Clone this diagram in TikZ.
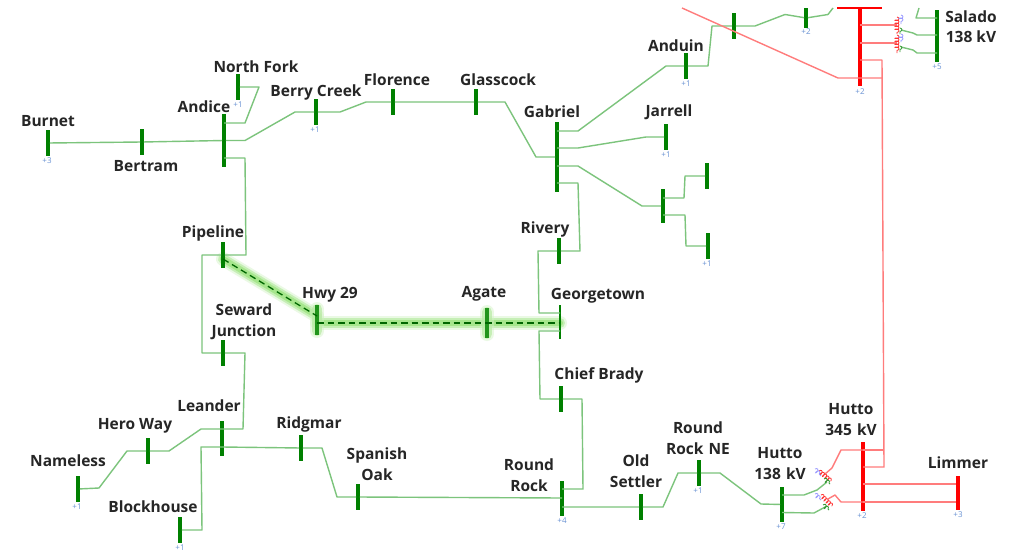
\documentclass[tikz,border=0pt]{standalone}
\usepackage{fontspec}
\setmainfont{Open Sans}
\usetikzlibrary{decorations.pathmorphing}
\definecolor{busgreen}{HTML}{008000}
\definecolor{linegreen}{HTML}{7CC47C}
\definecolor{busred}{HTML}{FF0000}
\definecolor{linered}{HTML}{FF7C7C}
\definecolor{glowgreen}{HTML}{A6E68C}
\definecolor{ticklabel}{HTML}{6A93D4}
\tikzset{
  bus/.style={fill=busgreen, rectangle, inner sep=0pt, minimum width=3.5pt},
  redbus/.style={bus, fill=busred, minimum width=4pt},
  acline/.style={draw=linegreen, line width=1.4pt, line join=round},
  redline/.style={draw=linered, line width=1.4pt, line join=round},
  lbl/.style={font=\bfseries\fontsize{15.5}{19}\selectfont, text=black!85, align=center, inner sep=0pt, yshift=-1pt},
  tick/.style={font=\fontsize{8}{9}\selectfont, text=ticklabel, inner sep=0pt},
  glow/.style={draw=glowgreen!50, line width=14pt, opacity=.45, line cap=round},
  glowmid/.style={draw=glowgreen!80, line width=10pt, opacity=.7, line cap=round},
  glowcore/.style={draw=glowgreen, line width=6pt, line cap=round},
  dashline/.style={draw=busgreen!80!black, line width=1.3pt, dash pattern=on 6.5pt off 4pt},
  coilred/.style={draw=red!80, line width=.8pt, decorate, decoration={coil, aspect=.5, amplitude=2pt, segment length=3pt}},
  coilgreen/.style={coilred, draw=green!50!black!80},
  coilblue/.style={coilred, draw=blue!40!white},
}
\begin{document}
\begin{tikzpicture}[x=1pt, y=-1pt]
\useasboundingbox (0,0) rectangle (1020,554);
\fill[white] (0,0) rectangle (1020,554);
% glow under the highlighted path
\coordinate (hwyin) at (317,316);
\coordinate (pipeout) at (223,259);
\coordinate (hwyout) at (317,323);
\coordinate (georgein) at (560,323);
\foreach \sty in {glow,glowmid,glowcore}{
  \draw[\sty] (pipeout) -- (hwyin);
  \draw[\sty] (hwyout) -- (georgein);
}
\foreach \sty in {glow,glowmid}{
  \draw[\sty] (317,309) -- (317,331);
  \draw[\sty] (487,312) -- (487,334);
}
% buses
\node[bus, minimum height=26pt] (burnet) at (48,143) {};
\node[bus, minimum height=26pt] (bertram) at (142,142) {};
\node[bus, minimum height=53pt] (andice) at (224,140.5) {};
\node[bus, minimum height=26pt] (northfork) at (238,87) {};
\node[bus, minimum height=26pt] (berrycreek) at (316,112) {};
\node[bus, minimum height=26pt] (florence) at (393,102) {};
\node[bus, minimum height=26pt] (glasscock) at (476,102) {};
\node[bus, minimum height=70pt] (gabriel) at (557,157) {};
\node[bus, minimum height=26pt] (jarrell) at (666,137) {};
\node[bus, minimum height=34pt] (tap) at (663,206) {};
\node[bus, minimum height=26pt] (tapnorth) at (707,176) {};
\node[bus, minimum height=26pt] (tapsouth) at (708,246) {};
\node[bus, minimum height=26pt] (anduin) at (686,66) {};
\node[bus, minimum height=26pt] (busa) at (734,26) {};
\node[bus, minimum height=20pt] (busb) at (806,18) {};
\node[bus, minimum height=52pt] (salado) at (937,36) {};
\node[redbus, minimum height=78pt] (saladohv) at (860,47) {};
\node[bus, minimum height=26pt] (pipeline) at (223,255) {};
\node[bus, minimum height=30pt, fill=busgreen!80!glowgreen] (hwy) at (317,320) {};
\node[bus, minimum height=30pt, fill=busgreen!80!glowgreen] (agate) at (487,323) {};
\node[bus, minimum width=2.2pt, minimum height=34pt] (georgetown) at (560,322) {};
\node[bus, minimum height=26pt] (rivery) at (559,251) {};
\node[bus, minimum height=26pt] (seward) at (223,353) {};
\node[bus, minimum height=35pt] (leander) at (222,438.5) {};
\node[bus, minimum height=26pt] (heroway) at (148,451) {};
\node[bus, minimum height=26pt] (nameless) at (78,489) {};
\node[bus, minimum height=26pt] (blockhouse) at (180,530) {};
\node[bus, minimum height=26pt] (ridgmar) at (301,448) {};
\node[bus, minimum height=26pt] (spanish) at (358,497) {};
\node[bus, minimum height=26pt] (chiefbrady) at (561,399) {};
\node[bus, minimum height=35pt] (roundrock) at (562,498.5) {};
\node[bus, minimum height=26pt] (oldsettler) at (641,507) {};
\node[bus, minimum height=26pt] (rocknne) at (699,473) {};
\node[bus, minimum height=35pt] (hutto) at (782,504.5) {};
\node[redbus, minimum height=69pt] (huttohv) at (863,476.5) {};
\node[redbus, minimum height=34pt] (limmer) at (958,493) {};
% north side
\draw[acline] (burnet) -- (bertram) -- (andice) -- (245,140.5) -- (295,112) -- (berrycreek) -- (340,112) -- (366,102) -- (florence) -- (glasscock) -- (505,102) -- (536,157) -- (gabriel);
\draw[acline] ([yshift=17.5pt]andice.center) -- (245,123) -- (259,87) -- (northfork);
\draw[acline] ([yshift=-17.5pt]andice.center) -- (245,158) -- (246,255) -- (pipeline);
\draw[acline] ([yshift=26pt]gabriel.center) -- (578,131) -- (666,66) -- (anduin) -- (708,66) -- (712,26) -- (busa) -- (755,26) -- (785,14.5) -- (busb) -- (828,14.5) -- (833,8);
\draw[acline] ([yshift=9pt]gabriel.center) -- (578,148) -- (646,137) -- (jarrell);
\draw[acline] ([yshift=-9pt]gabriel.center) -- (578,166) -- (642,206) -- (tap);
\draw[acline] ([yshift=8pt]tap.center) -- (684,198) -- (685,176) -- (tapnorth);
\draw[acline] ([yshift=-9pt]tap.center) -- (685,215) -- (686,246) -- (tapsouth);
\draw[acline] ([yshift=-26pt]gabriel.center) -- (578,183) -- (580,251) -- (rivery) -- (538,251) -- (539,313) -- ([yshift=9pt]georgetown.center);
\draw[acline] ([yshift=18pt]salado.center) -- (916,18) -- (919,8);
% west side
\draw[acline] (pipeline) -- (202,255) -- (202,353) -- (seward) -- (245,353) -- (243,429) -- ([yshift=9.5pt]leander.center) -- (201,429) -- (169,451) -- (heroway) -- (127,451) -- (99,488) -- (nameless);
\draw[acline] ([yshift=-8.5pt]leander.center) -- (201,447) -- (202,530) -- (blockhouse);
\draw[acline] ([yshift=-8.5pt]leander.center) -- (ridgmar) -- (322,448) -- (337,497) -- (spanish) -- ([yshift=.5pt]roundrock.center);
% east side
\draw[acline] ([yshift=-9pt]georgetown.center) -- (539,331) -- (540,399) -- (chiefbrady) -- (582,399) -- (583,489) -- ([yshift=9.5pt]roundrock.center);
\draw[acline] ([yshift=-8.5pt]roundrock.center) -- (oldsettler) -- (663,507) -- (678,473) -- (rocknne) -- (720,473) -- (761,504) -- (hutto);
% highlighted path
\draw[dashline] (pipeout) -- (hwyin);
\draw[dashline] (hwyout) -- (georgein);
% red network
\draw[redline] (682,8) -- (838,78) -- ([yshift=-31pt]saladohv.center) -- (882,78);
\draw[redline] ([yshift=-13pt]saladohv.center) -- (882,60) -- (884,467) -- ([yshift=9.5pt]huttohv.center);
\draw[redline] ([yshift=26.5pt]huttohv.center) -- (884,450);
\draw[redline] ([yshift=-7.5pt]huttohv.center) -- (limmer.west |- 0,484);
\draw[redline] ([yshift=-25.5pt]huttohv.center) -- (limmer.west |- 0,502);
\draw[busred, line width=1.6pt] (837,8) -- (882,8);
% transformers at Salado
\draw[redline] ([yshift=22pt]saladohv.center) -- (897,25);
\draw[redline] ([yshift=4pt]saladohv.center) -- (897,43);
\draw[acline] (901,30) -- (913,33) -- (917,35) -- ([yshift=1pt]salado.center);
\draw[acline] (901,47) -- (913,50) -- (917,53) -- ([yshift=-17pt]salado.center);
\draw[coilred] (897,17) -- (897,34);
\draw[coilred] (897,35) -- (897,53);
\draw[coilblue] (901,15) -- (901,24);
\draw[coilblue] (901,34) -- (901,42);
\draw[coilgreen] (900,28) -- (900,34);
\draw[coilgreen] (900,46) -- (900,52);
% transformers at Hutto
\draw[redline] ([yshift=26.5pt]huttohv.center) -- (841,450) -- (832,468) -- (825,474);
\draw[redline] ([yshift=-25.5pt]huttohv.center) -- (841,502) -- (835,495) -- (828,499);
\draw[acline] ([yshift=9.5pt]hutto.center) -- (804,495) -- (817,490) -- (827,482);
\draw[acline] ([yshift=-8pt]hutto.center) -- (814,513) -- (827,506);
\draw[coilred] (819,471) -- (831,481);
\draw[coilred] (821,495) -- (832,506);
\draw[coilgreen] (824,479) -- (830,484);
\draw[coilgreen] (823,505) -- (829,510);
\draw[coilblue] (815,469) -- (821,476);
\draw[coilblue] (815,494) -- (821,500);
% labels
\node[lbl] (lburnet) at (48,120) {Burnet};
\node[lbl] (lbertram) at (146,165) {Bertram};
\node[lbl] (landice) at (204,106) {Andice};
\node[lbl] (lnorthfork) at (256,66) {North Fork};
\node[lbl] (lberry) at (316,91) {Berry Creek};
\node[lbl] (lflorence) at (397,79) {Florence};
\node[lbl] (lglasscock) at (498,79) {Glasscock};
\node[lbl] (lgabriel) at (552,111) {Gabriel};
\node[lbl] (ljarrell) at (669,111) {Jarrell};
\node[lbl] (landuin) at (676,45) {Anduin};
\node[lbl] (lsalado) at (971,16) {Salado};
\node[lbl] (lsaladokv) at (971,36) {138 kV};
\node[lbl] (lpipeline) at (213,232) {Pipeline};
\node[lbl] (lhwy) at (330,294) {Hwy 29};
\node[lbl] (lagate) at (484,293) {Agate};
\node[lbl] (lrivery) at (545,228) {Rivery};
\node[lbl] (lgeorgetown) at (598,295) {Georgetown};
\node[lbl, text width=90pt] (lseward) at (244,321) {Seward\\[2pt]Junction};
\node[lbl] (lchief) at (599,374) {Chief Brady};
\node[lbl] (lleander) at (209,405) {Leander};
\node[lbl] (lhero) at (135,425) {Hero Way};
\node[lbl] (lnameless) at (68,460) {Nameless};
\node[lbl] (lblockhouse) at (153,506) {Blockhouse};
\node[lbl] (lridgmar) at (309,423) {Ridgmar};
\node[lbl, text width=70pt] (lspanish) at (377,463) {Spanish\\[2pt]Oak};
\node[lbl, text width=60pt] (lround) at (529,474) {Round\\[2pt]Rock};
\node[lbl, text width=60pt] (lold) at (636,470) {Old\\[2pt]Settler};
\node[lbl, text width=80pt] (lne) at (698,437) {Round\\[2pt]Rock NE};
\node[lbl, text width=60pt] (lhutto) at (780,463) {Hutto\\[2pt]138 kV};
\node[lbl, text width=60pt] (lhuttohv) at (851,419) {Hutto\\[2pt]345 kV};
\node[lbl] (llimmer) at (958,462) {Limmer};
% tick marks
\node[tick] (tburnet) at (47,161) {+3};
\node[tick] (tnorthfork) at (238,105) {+1};
\node[tick] (tberry) at (315,130) {+1};
\node[tick] (tjarrell) at (666,155) {+1};
\node[tick] (tanduin) at (686,84) {+1};
\node[tick] (tbusb) at (806,32) {+2};
\node[tick] (tsaladohv) at (860,92) {+2};
\node[tick] (tsalado) at (937,67) {+5};
\node[tick] (ttap) at (707,264) {+1};
\node[tick] (tnameless) at (77,507) {+1};
\node[tick] (tblock) at (180,548) {+1};
\node[tick] (tround) at (562,521) {+4};
\node[tick] (tne) at (698,491) {+1};
\node[tick] (thutto) at (781,527) {+7};
\node[tick] (thuttohv) at (862,516) {+2};
\node[tick] (tlimmer) at (958,515) {+3};
\end{tikzpicture}
\end{document}
